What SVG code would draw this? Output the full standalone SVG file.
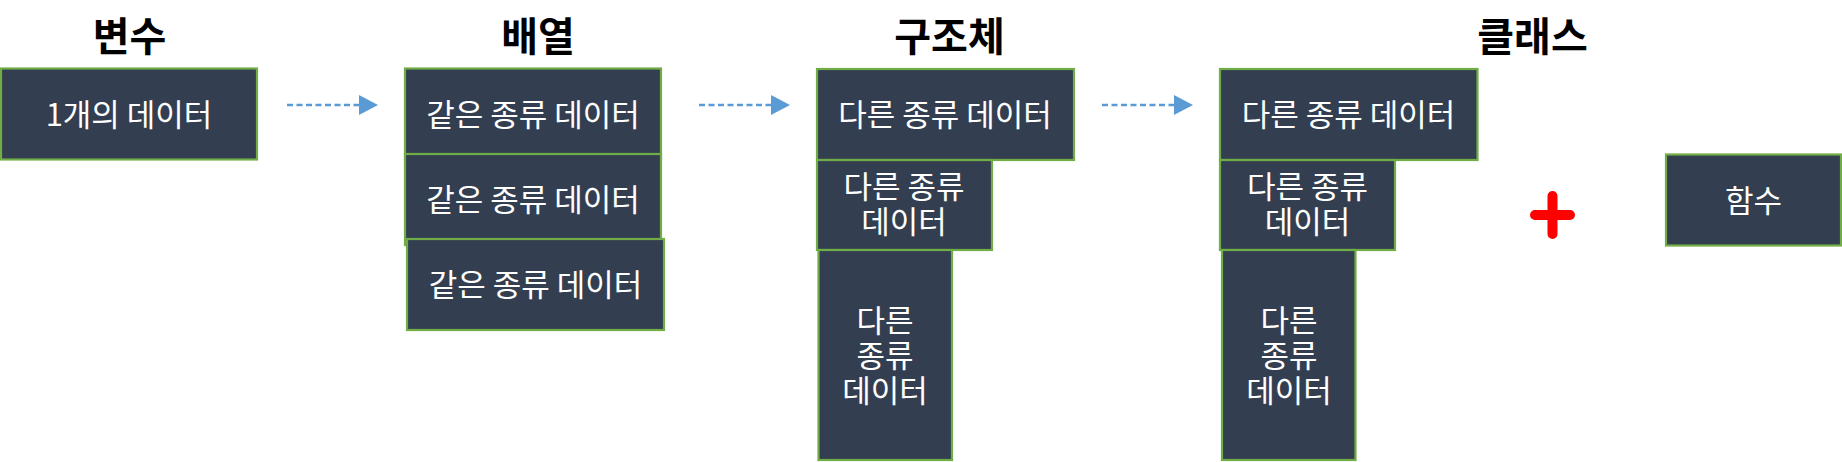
<svg xmlns="http://www.w3.org/2000/svg" width="1842" height="462" viewBox="0 0 1842 462">
<style>
.title{font-family:"Noto Sans CJK KR","Liberation Sans",sans-serif;font-size:40px;font-weight:bold;fill:#000;text-anchor:middle}
.box{fill:#333F50;stroke:#70AD47;stroke-width:2.2}
.lbl{font-family:"Noto Sans CJK KR","Liberation Sans",sans-serif;font-size:31px;fill:#fff;text-anchor:middle}
.conn{stroke:#5B9BD5;stroke-width:2.5;stroke-dasharray:6 3.5;fill:none}
</style>
<defs>
<marker id="ah" markerWidth="20" markerHeight="20" refX="0" refY="10" orient="auto" markerUnits="userSpaceOnUse">
<path d="M0,0 L19,10 L0,20 Z" fill="#5B9BD5"/>
</marker>
</defs>
<rect width="1842" height="462" fill="#fff"/>
<g id="titles">
<text class="title" x="129.5" y="50.5">변수</text>
<text class="title" x="538" y="50.5">배열</text>
<text class="title" x="949.5" y="50.5">구조체</text>
<text class="title" x="1532.5" y="50.5">클래스</text>
</g>
<g id="connectors">
<line class="conn" x1="287" y1="105" x2="359" y2="105" marker-end="url(#ah)"/>
<line class="conn" x1="699" y1="105" x2="771" y2="105" marker-end="url(#ah)"/>
<line class="conn" x1="1102" y1="105" x2="1174" y2="105" marker-end="url(#ah)"/>
</g>
<g id="var">
<rect class="box" x="1" y="68.5" width="256" height="91"/>
<text class="lbl" x="129" y="126">1개의 데이터</text>
</g>
<g id="arr1">
<rect class="box" x="405" y="68.5" width="256" height="91"/>
<text class="lbl" x="533" y="126">같은 종류 데이터</text>
</g>
<g id="arr2">
<rect class="box" x="405" y="154" width="256" height="91"/>
<text class="lbl" x="533" y="211">같은 종류 데이터</text>
</g>
<g id="arr3">
<rect class="box" x="407" y="239" width="257" height="91"/>
<text class="lbl" x="535.5" y="296">같은 종류 데이터</text>
</g>
<g id="st1">
<rect class="box" x="817" y="69" width="257" height="91"/>
<text class="lbl" x="945" y="126">다른 종류 데이터</text>
</g>
<g id="st2">
<rect class="box" x="817" y="160" width="175" height="90"/>
<text class="lbl" x="904" y="198">다른 종류</text>
<text class="lbl" x="904" y="233">데이터</text>
</g>
<g id="st3">
<rect class="box" x="818.5" y="250" width="133.5" height="210"/>
<text class="lbl" x="885" y="332">다른</text>
<text class="lbl" x="885" y="367">종류</text>
<text class="lbl" x="885" y="402">데이터</text>
</g>
<g id="cl1">
<rect class="box" x="1220" y="69" width="257.5" height="91"/>
<text class="lbl" x="1348.5" y="126">다른 종류 데이터</text>
</g>
<g id="cl2">
<rect class="box" x="1220" y="160" width="175" height="90"/>
<text class="lbl" x="1307.5" y="198">다른 종류</text>
<text class="lbl" x="1307.5" y="233">데이터</text>
</g>
<g id="cl3">
<rect class="box" x="1222" y="250" width="133.5" height="210"/>
<text class="lbl" x="1289" y="332">다른</text>
<text class="lbl" x="1289" y="367">종류</text>
<text class="lbl" x="1289" y="402">데이터</text>
</g>
<g id="plus">
<path d="M1535,215 H1570 M1552.5,196 V234" stroke="#FF0000" stroke-width="10" stroke-linecap="round"/>
</g>
<g id="func">
<rect class="box" x="1666" y="154.5" width="175" height="91"/>
<text class="lbl" x="1753.5" y="212">함수</text>
</g>
</svg>
